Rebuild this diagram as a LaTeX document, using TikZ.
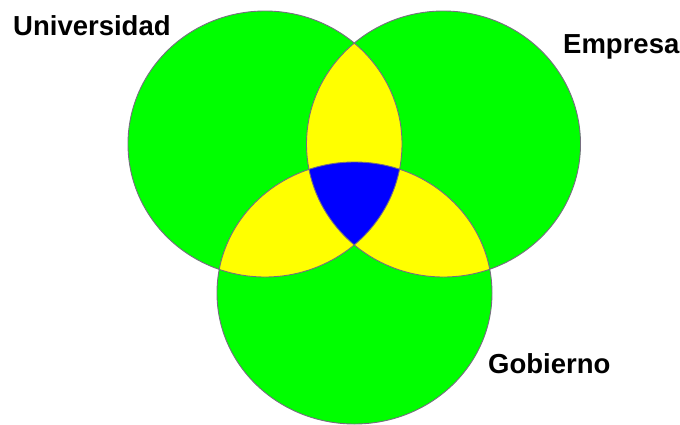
\documentclass[tikz,border=0pt]{standalone}
\usepackage{fontspec}
\setmainfont{Liberation Sans}
\definecolor{vgreen}{RGB}{0,255,0}
\definecolor{vyellow}{RGB}{255,255,0}
\definecolor{vblue}{RGB}{0,0,255}
\definecolor{vline}{RGB}{118,110,128}
\tikzset{
  lbl/.style={anchor=base west, inner sep=0pt, font=\fontsize{27.5}{30}\selectfont\bfseries, text=black},
  rim/.style={draw=vline, line width=0.9pt}
}
\begin{document}
\begin{tikzpicture}[x=1pt,y=-1pt]
\useasboundingbox (0,0) rectangle (680,424);
\clip (0,0) rectangle (680,424);
\def\Uni{(265,144) ellipse [x radius=137, y radius=133]}
\def\Emp{(443.5,144) ellipse [x radius=137, y radius=133]}
\def\Gob{(354.5,293) ellipse [x radius=137.5, y radius=131]}
% green discs
\fill[vgreen] \Uni;
\fill[vgreen] \Emp;
\fill[vgreen] \Gob;
% pairwise overlaps
\begin{scope}
  \clip \Uni;
  \fill[vyellow] \Emp;
  \fill[vyellow] \Gob;
\end{scope}
\begin{scope}
  \clip \Emp;
  \fill[vyellow] \Gob;
\end{scope}
% triple overlap
\begin{scope}
  \clip \Uni;
  \clip \Emp;
  \fill[vblue] \Gob;
\end{scope}
% outlines
\draw[rim] \Uni;
\draw[rim] \Emp;
\draw[rim] \Gob;
% labels
\node[lbl] (uni) at (13,35) {Universidad};
\node[lbl] (emp) at (563,53) {Empresa};
\node[lbl] (gob) at (488,373) {Gobierno};
\end{tikzpicture}
\end{document}
